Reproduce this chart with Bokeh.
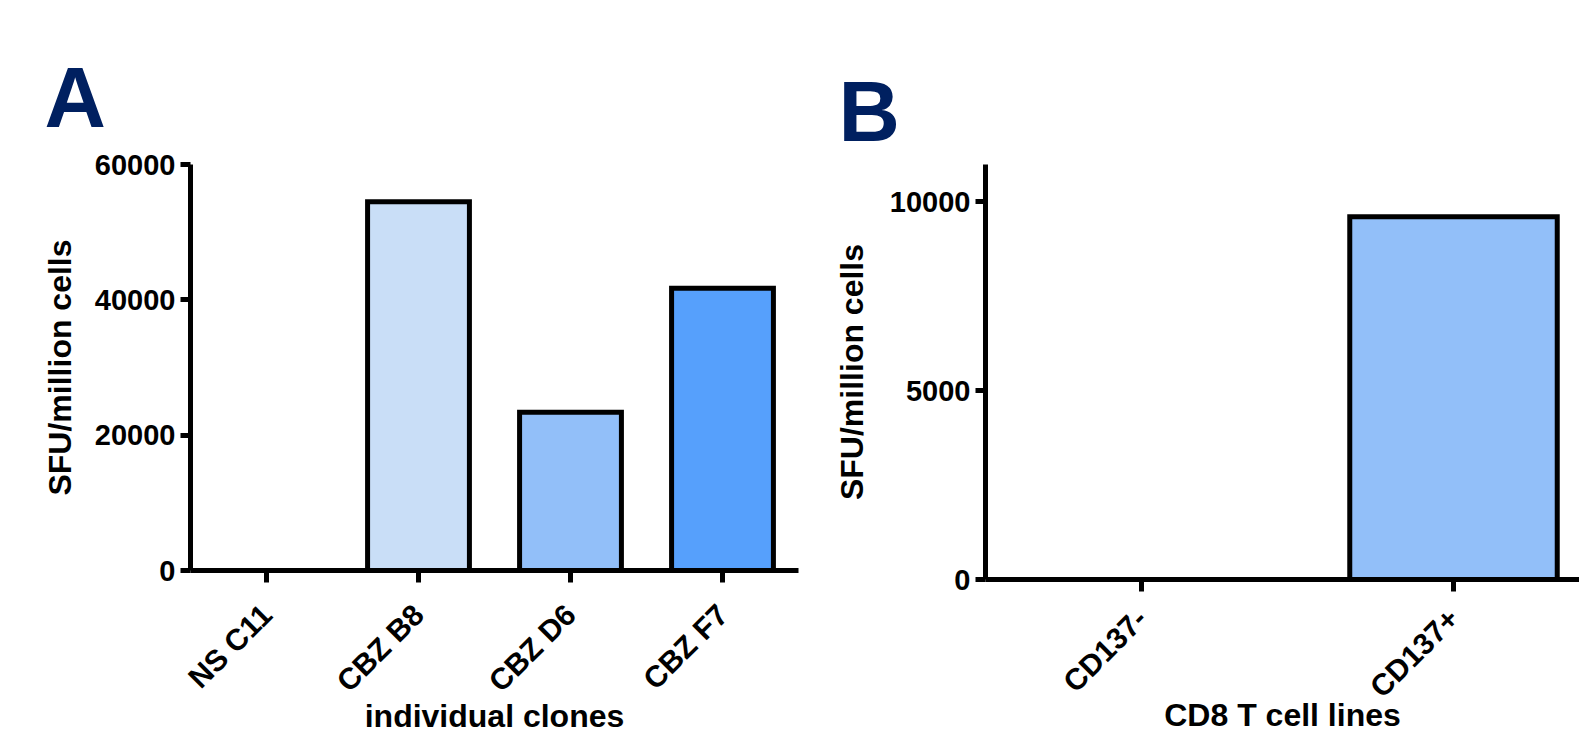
from math import pi
from bokeh.plotting import figure
from bokeh.models import Range1d, FixedTicker, ColumnDataSource, Title
from bokeh.layouts import row, column
from bokeh.embed import file_html
from bokeh.resources import INLINE

# ---- data ----
clones = ["NS C11", "CBZ B8", "CBZ D6", "CBZ F7"]
clone_sfu = [0, 54500, 23400, 41700]
clone_colors = ["#FFFFFF", "#C9DEF7", "#92BFF9", "#56A0FC"]

cell_lines = ["CD137-", "CD137+"]
line_sfu = [0, 9600]
line_colors = ["#FFFFFF", "#92BFF9"]

y_ticks_a = [0, 20000, 40000, 60000]
y_ticks_b = [0, 5000, 10000]

FONT = "Liberation Sans"
NAVY = "#002060"


def style(p, yticks, cats, ylabel, xlabel, ylab_standoff, xlab_standoff, tick_standoff):
    p.outline_line_color = None
    p.xgrid.grid_line_color = None
    p.ygrid.grid_line_color = None
    p.background_fill_color = "white"
    p.border_fill_color = "white"
    for ax in (p.xaxis[0], p.yaxis[0]):
        ax.axis_line_width = 5
        ax.axis_line_color = "black"
        ax.major_tick_line_width = 5
        ax.major_tick_line_color = "black"
        ax.major_tick_in = 0
        ax.minor_tick_line_color = None
        ax.major_label_text_font = FONT
        ax.major_label_text_font_style = "bold"
        ax.major_label_text_color = "black"
        ax.axis_label_text_font = FONT
        ax.axis_label_text_font_style = "bold"
        ax.axis_label_text_font_size = "32px"
        ax.axis_label_text_color = "black"
    p.yaxis[0].major_label_text_font_size = "29px"
    p.xaxis[0].major_label_text_font_size = "30px"
    p.yaxis[0].ticker = FixedTicker(ticks=yticks)
    p.yaxis[0].major_tick_out = 10
    p.yaxis[0].major_label_standoff = 5
    p.yaxis[0].axis_label = ylabel
    p.yaxis[0].axis_label_standoff = ylab_standoff
    p.xaxis[0].ticker = FixedTicker(ticks=list(range(len(cats))))
    p.xaxis[0].major_label_overrides = {i: c for i, c in enumerate(cats)}
    p.xaxis[0].major_label_orientation = pi / 4
    p.xaxis[0].major_tick_out = 12
    p.xaxis[0].major_label_standoff = tick_standoff
    p.xaxis[0].axis_label = xlabel
    p.xaxis[0].axis_label_standoff = xlab_standoff


def letter(p, text, offset, standoff):
    p.add_layout(Title(text=text, text_font=FONT, text_font_style="bold",
                       text_font_size="85px", text_color=NAVY, align="left",
                       offset=offset, standoff=standoff), "above")


# ---- Panel A ----
src_a = ColumnDataSource(dict(x=list(range(len(clones))), top=clone_sfu, color=clone_colors))
pa = figure(width=820, height=737, output_backend="svg", toolbar_location=None,
            x_range=Range1d(-0.5, len(clones) - 0.5), y_range=Range1d(0, 60000),
            min_border_left=190, min_border_right=22, min_border_top=164, min_border_bottom=167)
pa.vbar(x="x", top="top", bottom=0, width=0.67, fill_color="color", line_color="black",
        line_width=5, line_join="miter", source=src_a)
style(pa, y_ticks_a, clones, "SFU/million cells", "individual clones", 14, -14, 27)
letter(pa, "A", -146, 40)

# ---- Panel B ----
src_b = ColumnDataSource(dict(x=list(range(len(cell_lines))), top=line_sfu, color=line_colors))
pb = figure(width=759, height=737, output_backend="svg", toolbar_location=None,
            x_range=Range1d(-0.5, -0.5 + 594 / 312), y_range=Range1d(0, 10980),
            min_border_left=165, min_border_right=0, min_border_top=164, min_border_bottom=158)
pb.vbar(x="x", top="top", bottom=0, width=0.665, fill_color="color", line_color="black",
        line_width=5, line_join="miter", source=src_b)
style(pb, y_ticks_b, cell_lines, "SFU/million cells", "CD8 T cell lines", 17, -21, 22)
letter(pb, "B", -147, 11)

layout = row(column(pa), column(pb))
open("out.html", "w").write(file_html(layout, INLINE))
